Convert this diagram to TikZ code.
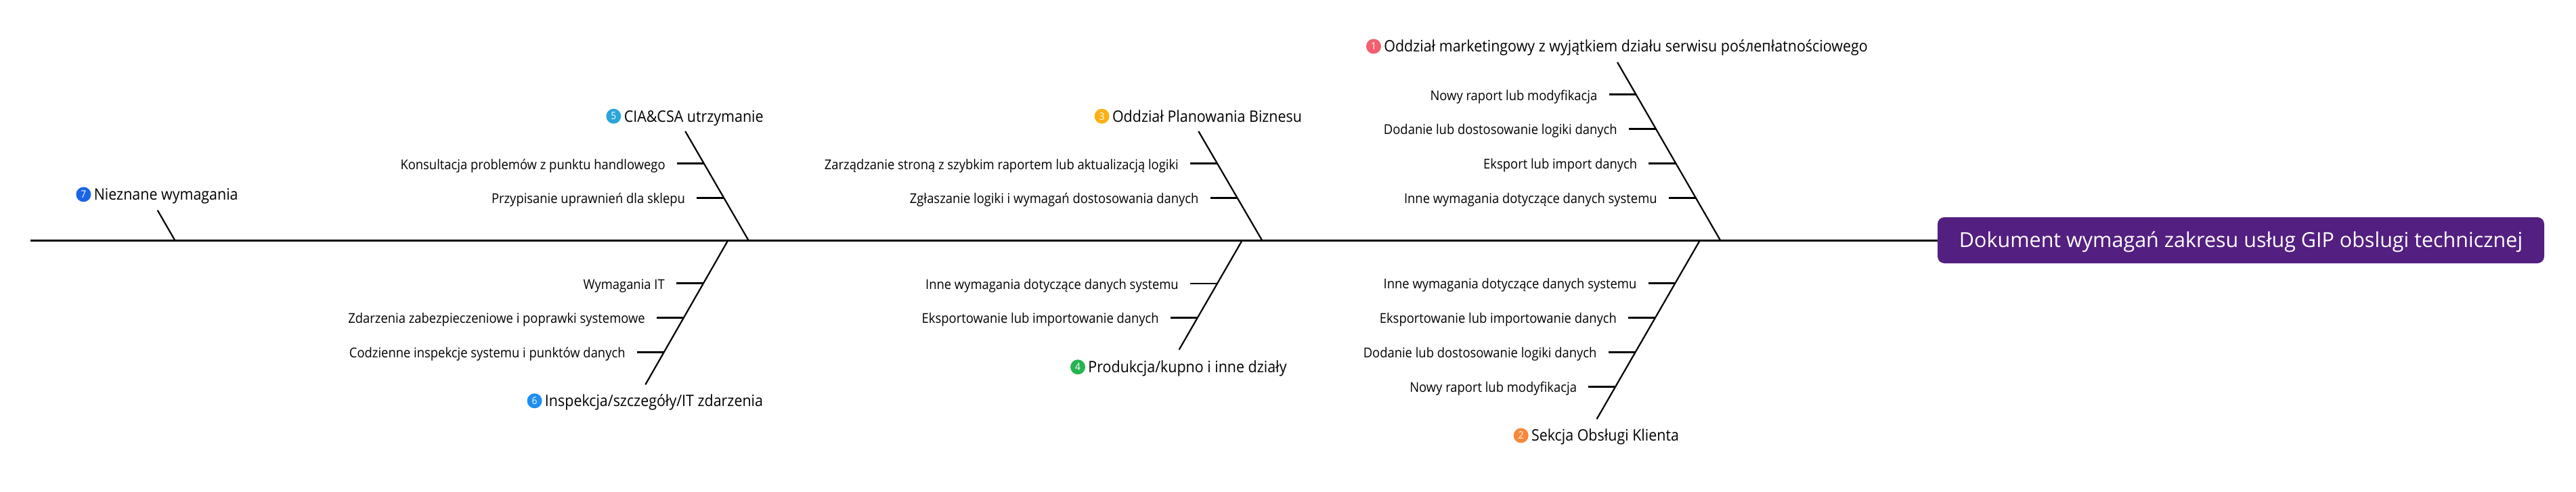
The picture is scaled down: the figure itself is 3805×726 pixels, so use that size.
\documentclass[tikz,border=0pt]{standalone}
\usepackage{fontspec}
\setmainfont{Open Sans}[FakeStretch=0.92]
\newfontfamily\headfont{Open Sans}
\usetikzlibrary{calc,positioning}
\definecolor{FishHead}{HTML}{531F80}
\definecolor{BadgeRed}{HTML}{F25F6E}
\definecolor{BadgeOrange}{HTML}{F7883B}
\definecolor{BadgeYellow}{HTML}{FBB116}
\definecolor{BadgeGreen}{HTML}{26B350}
\definecolor{BadgeCyan}{HTML}{2AA6DB}
\definecolor{BadgeBlue}{HTML}{1E8EF0}
\definecolor{BadgeNavy}{HTML}{1A64E6}
\tikzset{
  every picture/.style = {line join=round},
  spine/.style = {draw=black, line width=3pt},
  bone/.style = {draw=black, line width=2.2pt},
  tick/.style = {draw=black, line width=2.7pt},
  head/.style = {
    fill=FishHead,
    text=white,
    rounded corners=10pt,
    minimum width=896pt,
    minimum height=68pt,
    inner sep=0pt,
    font=\headfont\fontsize{30.5}{36}\selectfont,
    text height=21.5pt,
    text depth=0pt
  },
  branch title/.style = {
    inner sep=0pt,
    font=\fontsize{23.3}{28}\selectfont,
    text height=16.6pt,
    text depth=0pt
  },
  badge/.style = {
    circle,
    minimum size=22pt,
    inner sep=0pt,
    text=white,
    font=\fontsize{15}{18}\selectfont
  },
  item/.style = {
    anchor=east,
    inner sep=0pt,
    font=\fontsize{20}{24}\selectfont,
    text height=17.1pt,
    text depth=0pt
  },
}

\begin{document}
\begin{tikzpicture}[x=1pt,y=-1pt]
  \fill[white] (0,0) rectangle (3805,726);
  \useasboundingbox (0,0) rectangle (3805,726);

  % head and spine
  \node[head] (head) at (3310,355) {Dokument wymagań zakresu usług GIP obslugi technicznej};
  \coordinate (tail) at (45,355);
  \draw[spine] (tail) -- (head.west);

  % 1 -- upper right
  \coordinate (b1top) at (2389,92);
  \coordinate (b1bot) at (2541,355);
  \draw[bone] (b1top) -- (b1bot);
  \node[branch title] (t1) at (2401.5,68.5) {Oddział marketingowy z wyjątkiem działu serwisu pośлeпłatnościowego};
  \node[badge, fill=BadgeRed, left=4pt of t1] (n1) {1};
  \foreach \f/\txt [count=\i] in {0.181/Nowy raport lub modyfikacja,
      0.374/Dodanie lub dostosowanie logiki danych,
      0.568/Eksport lub import danych,
      0.762/Inne wymagania dotyczące danych systemu} {
    \coordinate (b1-\i) at ($(b1top)!\f!(b1bot)$);
    \draw[tick] (b1-\i) -- ++(-40,0) coordinate (b1-\i-end);
    \node[item] (b1-\i-txt) at ([xshift=-17pt]b1-\i-end) {\txt};
  }

  % 2 -- lower right
  \coordinate (b2top) at (2511,355);
  \coordinate (b2bot) at (2358.5,619.3);
  \draw[bone] (b2top) -- (b2bot);
  \node[branch title] (t2) at (2371,643.5) {Sekcja Obsługi Klienta};
  \node[badge, fill=BadgeOrange, left=4pt of t2] (n2) {2};
  \foreach \f/\txt [count=\i] in {0.2395/Inne wymagania dotyczące danych systemu,
      0.4325/Eksportowanie lub importowanie danych,
      0.6254/Dodanie lub dostosowanie logiki danych,
      0.8184/Nowy raport lub modyfikacja} {
    \coordinate (b2-\i) at ($(b2top)!\f!(b2bot)$);
    \draw[tick] (b2-\i) -- ++(-40,0) coordinate (b2-\i-end);
    \node[item] (b2-\i-txt) at ([xshift=-17pt]b2-\i-end) {\txt};
  }

  % 3 -- upper middle
  \coordinate (b3top) at (1770.3,194);
  \coordinate (b3bot) at (1864.1,355);
  \draw[bone] (b3top) -- (b3bot);
  \node[branch title] (t3) at (1783,171.7) {Oddział Planowania Biznesu};
  \node[badge, fill=BadgeYellow, left=4pt of t3] (n3) {3};
  \foreach \f/\txt [count=\i] in {0.296/Zarządzanie stroną z szybkim raportem lub aktualizacją logiki,
      0.611/Zgłaszanie logiki i wymagań dostosowania danych} {
    \coordinate (b3-\i) at ($(b3top)!\f!(b3bot)$);
    \draw[tick] (b3-\i) -- ++(-40,0) coordinate (b3-\i-end);
    \node[item] (b3-\i-txt) at ([xshift=-17pt]b3-\i-end) {\txt};
  }

  % 4 -- lower middle
  \coordinate (b4top) at (1834.9,355);
  \coordinate (b4bot) at (1741.6,516.7);
  \draw[bone] (b4top) -- (b4bot);
  \node[branch title] (t4) at (1754,542.3) {Produkcja/kupno i inne działy};
  \node[badge, fill=BadgeGreen, left=4pt of t4] (n4) {4};
  \foreach \f/\txt [count=\i] in {0.396/Inne wymagania dotyczące danych systemu,
      0.707/Eksportowanie lub importowanie danych} {
    \coordinate (b4-\i) at ($(b4top)!\f!(b4bot)$);
    \draw[tick] (b4-\i) -- ++(-40,0) coordinate (b4-\i-end);
    \node[item] (b4-\i-txt) at ([xshift=-17pt]b4-\i-end) {\txt};
  }

  % 5 -- upper left
  \coordinate (b5top) at (1012.2,194);
  \coordinate (b5bot) at (1105.5,355);
  \draw[bone] (b5top) -- (b5bot);
  \node[branch title] (t5) at (1024.7,171.7) {CIA\&CSA utrzymanie};
  \node[badge, fill=BadgeCyan, left=4pt of t5] (n5) {5};
  \foreach \f/\txt [count=\i] in {0.296/Konsultacja problemów z punktu handlowego,
      0.611/Przypisanie uprawnień dla sklepu} {
    \coordinate (b5-\i) at ($(b5top)!\f!(b5bot)$);
    \draw[tick] (b5-\i) -- ++(-40,0) coordinate (b5-\i-end);
    \node[item] (b5-\i-txt) at ([xshift=-17pt]b5-\i-end) {\txt};
  }

  % 6 -- lower left
  \coordinate (b6top) at (1075.4,355);
  \coordinate (b6bot) at (953.3,568.3);
  \draw[bone] (b6top) -- (b6bot);
  \node[branch title] (t6) at (966,592.3) {Inspekcja/szczegóły/IT zdarzenia};
  \node[badge, fill=BadgeBlue, left=4pt of t6] (n6) {6};
  \foreach \f/\txt [count=\i] in {0.2986/Wymagania IT,
      0.536/Zdarzenia zabezpieczeniowe i poprawki systemowe,
      0.775/Codzienne inspekcje systemu i punktów danych} {
    \coordinate (b6-\i) at ($(b6top)!\f!(b6bot)$);
    \draw[tick] (b6-\i) -- ++(-40,0) coordinate (b6-\i-end);
    \node[item] (b6-\i-txt) at ([xshift=-17pt]b6-\i-end) {\txt};
  }

  % 7 -- tail
  \coordinate (b7top) at (232.7,310.7);
  \coordinate (b7bot) at (258.3,355);
  \draw[bone] (b7top) -- (b7bot);
  \node[branch title] (t7) at (245.2,287.3) {Nieznane wymagania};
  \node[badge, fill=BadgeNavy, left=4pt of t7] (n7) {7};
\end{tikzpicture}
\end{document}
